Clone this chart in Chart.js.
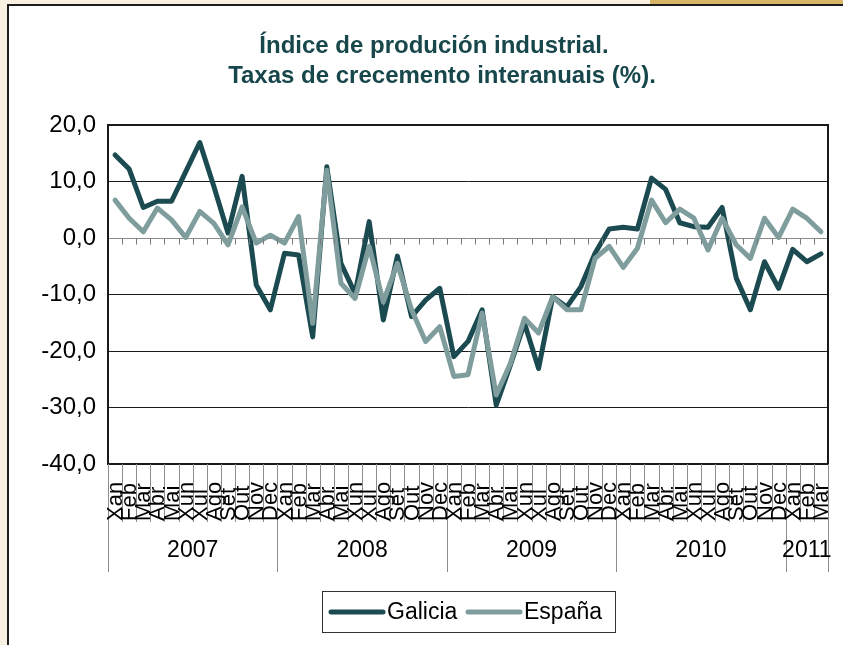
<!DOCTYPE html>
<html>
<head>
<meta charset="utf-8">
<script src="https://cdn.jsdelivr.net/npm/chart.js@4.4.0/dist/chart.umd.min.js"></script>
<style>
  html, body { margin: 0; padding: 0; background: #f8f1e2; }
  #wrap  { position: relative; width: 843px; height: 645px; overflow: hidden; }
  #gold  { position: absolute; left: 650px; top: 0; width: 193px; height: 5px; background: #d8b566; }
  #frame { position: absolute; left: 7px; top: 4px; width: 860px; height: 680px;
           border-left: 2px solid #1e1e1e; border-top: 2px solid #1e1e1e; background: #fff; }
  canvas { position: absolute; left: 0; top: 0; }
</style>
</head>
<body>
<div id="wrap">
  <div id="gold"></div>
  <div id="frame"></div>
  <canvas id="chart" width="843" height="645"></canvas>
</div>
<script>
// ---- data ----
const MONTHS = ['Xan','Feb','Mar','Abr','Mai','Xun','Xul','Ago','Set','Out','Nov','Dec'];
const YEARS  = ['2007','2008','2009','2010','2011'];
const MONTHS_PER_YEAR = [12, 12, 12, 12, 3];

const galicia = [
  14.7, 12.2, 5.4, 6.5, 6.5, 11.7, 16.9, 9.1, 0.9, 10.9, -8.3, -12.7,
  -2.7, -3.0, -17.5, 12.6, -4.5, -9.8, 2.9, -14.5, -3.2, -13.9, -11.0, -8.9,
  -21.0, -18.3, -12.7, -29.6, -22.5, -15.1, -23.1, -10.4, -12.2, -8.6, -2.7, 1.6,
  1.9, 1.6, 10.6, 8.6, 2.7, 2.0, 1.9, 5.4, -7.1, -12.7, -4.2, -8.9,
  -2.0, -4.2, -2.8
];
const espana = [
  6.7, 3.5, 1.1, 5.3, 3.2, 0.1, 4.7, 2.6, -1.2, 5.5, -0.9, 0.5,
  -0.9, 3.8, -15.1, 12.0, -8.0, -10.7, -1.5, -11.3, -4.5, -12.7, -18.3, -15.7,
  -24.5, -24.2, -13.3, -27.8, -22.2, -14.2, -16.8, -10.4, -12.7, -12.7, -3.6, -1.5,
  -5.2, -1.8, 6.7, 2.7, 5.1, 3.5, -2.1, 3.5, -1.2, -3.6, 3.5, 0.1,
  5.1, 3.5, 1.1
];

const TITLE = ['Índice de produción industrial.', 'Taxas de crecemento interanuais (%).'];
const FONT  = '"Liberation Sans", Arial, sans-serif';
const C_GAL = '#1b4b50';
const C_ESP = '#7f9d9d';

// category labels: one per month
const labels = [];
YEARS.forEach((y, i) => {
  for (let m = 0; m < MONTHS_PER_YEAR[i]; m++) labels.push(MONTHS[m]);
});

// ---- custom drawing: frame, axis ticks, grouped x labels, title, legend ----
const decor = {
  id: 'decor',
  afterDraw(chart) {
    const { ctx, chartArea: a, scales } = chart;
    const x = scales.x, y = scales.y;
    const step = x.getPixelForValue(1) - x.getPixelForValue(0);
    const edge = i => x.getPixelForValue(i) - step / 2;
    ctx.save();

    // plot frame
    ctx.strokeStyle = '#1a1a1a';
    ctx.lineWidth = 2;
    ctx.strokeRect(a.left, a.top, a.right - a.left, a.bottom - a.top);

    // tick marks on the zero line
    const y0 = Math.round(y.getPixelForValue(0)) + 0.5;
    ctx.strokeStyle = '#7a7a7a';
    ctx.lineWidth = 1;
    ctx.beginPath();
    for (let k = 1; k < labels.length; k++) {
      const px = Math.round(edge(k)) + 0.5;
      ctx.moveTo(px, y0); ctx.lineTo(px, y0 + 6);
    }
    ctx.stroke();

    // category separators below the axis
    ctx.strokeStyle = '#8c8c8c';
    ctx.beginPath();
    for (let k = 0; k <= labels.length; k++) {
      const px = Math.round(edge(k)) + 0.5;
      ctx.moveTo(px, a.bottom); ctx.lineTo(px, a.bottom + 58);
    }
    // year separators
    let k0 = 0;
    const yearEdges = [0];
    MONTHS_PER_YEAR.forEach(n => { k0 += n; yearEdges.push(k0); });
    yearEdges.forEach(k => {
      const px = Math.round(edge(k)) + 0.5;
      ctx.moveTo(px, a.bottom); ctx.lineTo(px, a.bottom + 108);
    });
    ctx.stroke();

    // month labels, rotated
    ctx.fillStyle = '#000';
    ctx.font = '22px ' + FONT;
    ctx.textAlign = 'left';
    ctx.textBaseline = 'middle';
    labels.forEach((lab, i) => {
      ctx.save();
      ctx.translate(x.getPixelForValue(i) + 1, a.bottom + 57);
      ctx.rotate(-Math.PI / 2);
      ctx.fillText(lab, 0, 0);
      ctx.restore();
    });

    // year labels
    ctx.font = '23px ' + FONT;
    ctx.textAlign = 'center';
    YEARS.forEach((yr, i) => {
      const cx = (edge(yearEdges[i]) + edge(yearEdges[i + 1])) / 2;
      ctx.fillText(yr, cx, a.bottom + 87);
    });

    // title
    ctx.fillStyle = '#17464b';
    ctx.font = 'bold 24px ' + FONT;
    ctx.fillText(TITLE[0], 434, 46);
    ctx.fillText(TITLE[1], 442, 76);

    // legend
    const lx = 322, ly = 591, lw = 293, lh = 41;
    ctx.strokeStyle = '#333';
    ctx.lineWidth = 1;
    ctx.strokeRect(lx + 0.5, ly + 0.5, lw, lh);
    ctx.font = '23px ' + FONT;
    ctx.textAlign = 'left';
    ctx.fillStyle = '#000';
    ctx.lineCap = 'round';
    ctx.lineWidth = 5;
    const items = chart.data.datasets;
    const starts = [331, 468];
    items.forEach((ds, i) => {
      const sx = starts[i];
      ctx.strokeStyle = ds.borderColor;
      ctx.beginPath();
      ctx.moveTo(sx, ly + 21); ctx.lineTo(sx + 52, ly + 21);
      ctx.stroke();
      ctx.fillText(ds.label, sx + 56, ly + 22);
    });
    ctx.restore();
  }
};

new Chart(document.getElementById('chart'), {
  type: 'line',
  data: {
    labels: labels,
    datasets: [
      { label: 'Galicia', data: galicia, borderColor: C_GAL, borderWidth: 5, order: 1 },
      { label: 'España',  data: espana,  borderColor: C_ESP, borderWidth: 5, order: 0 }
    ]
  },
  options: {
    responsive: false,
    animation: false,
    layout: { padding: { top: 125, right: 15, bottom: 0, left: 0 } },
    elements: {
      line: { tension: 0, borderJoinStyle: 'round', borderCapStyle: 'round', fill: false },
      point: { radius: 0, hoverRadius: 0 }
    },
    scales: {
      x: {
        offset: true,
        ticks: { display: false },
        grid: { display: false },
        border: { display: false },
        afterFit: s => { s.height = 181; }
      },
      y: {
        min: -40, max: 20,
        ticks: {
          stepSize: 10,
          color: '#000',
          padding: 12,
          font: { family: FONT, size: 24 },
          callback: v => v.toFixed(1).replace('.', ',')
        },
        grid: {
          drawTicks: false,
          color: c => c.tick && c.tick.value === 0 ? '#8a8a8a' : '#1a1a1a',
          lineWidth: 1
        },
        border: { display: true, color: '#1a1a1a', width: 2 },
        afterFit: s => { s.width = 108; }
      }
    },
    plugins: {
      legend: { display: false },
      title: { display: false },
      tooltip: { enabled: false }
    }
  },
  plugins: [decor]
});
</script>
</body>
</html>
